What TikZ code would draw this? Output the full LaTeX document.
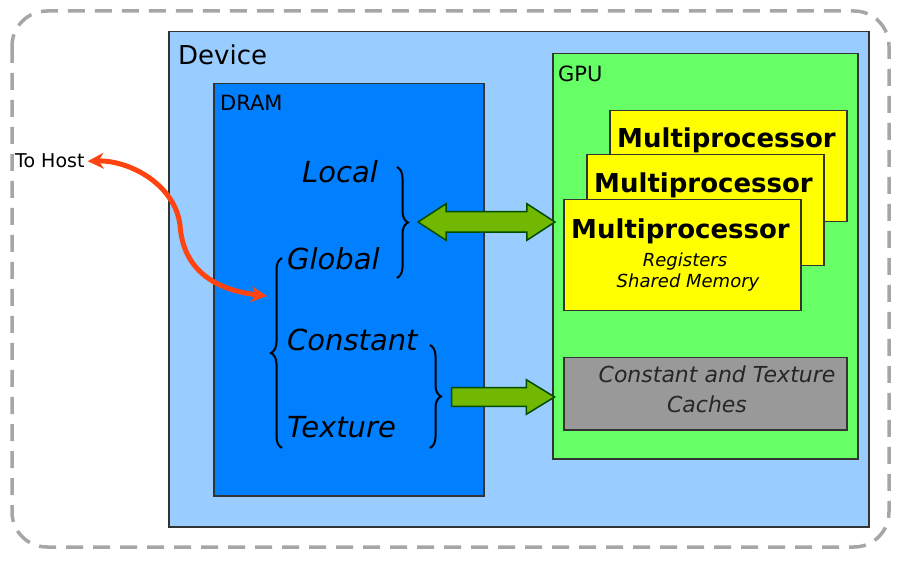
\documentclass[tikz,border=0pt]{standalone}
\usepackage{fontspec}
\setmainfont{DejaVu Sans}
\usetikzlibrary{arrows.meta,shapes.arrows,decorations.pathreplacing}

\definecolor{devblue}{HTML}{99CCFF}
\definecolor{dramblue}{HTML}{0080FF}
\definecolor{gpugreen}{HTML}{66FF66}
\definecolor{mpyellow}{HTML}{FFFF00}
\definecolor{cachegray}{HTML}{999999}
\definecolor{arrowgreen}{HTML}{73B800}
\definecolor{hostred}{HTML}{FF4411}
\definecolor{dashgray}{HTML}{A6A6A6}

\tikzset{
  box/.style={draw=black!80, line width=1.5pt, anchor=north west, inner sep=0pt},
  lbl/.style={anchor=base west, inner sep=0pt},
  mem/.style={lbl, font=\fontsize{29}{33}\selectfont\itshape},
  mptitle/.style={lbl, font=\fontsize{26}{30}\selectfont\bfseries},
  mpsub/.style={anchor=base, inner sep=0pt, font=\fontsize{18}{22}\selectfont\itshape},
  memcurl/.style={decorate, decoration={brace, amplitude=11pt}, line width=2pt},
  fatarrow/.style={draw=black!70!green, line width=1.5pt, fill=arrowgreen, inner xsep=0pt},
  redtip/.tip={Stealth[length=16pt,width=16pt]}
}

\begin{document}
\begin{tikzpicture}[x=1pt,y=-1pt]
  \useasboundingbox (0,0) rectangle (900,561);
  % host frame
  \draw[dashgray, line width=3.5pt, dash pattern=on 17pt off 10pt, rounded corners=35pt] (12,11) rectangle (889,547);

  % device
  \node[box, fill=devblue, minimum width=700pt, minimum height=495pt] (device) at (168,31) {};
  \node[lbl, font=\fontsize{26}{30}\selectfont] (devlbl) at (178,65) {Device};

  % DRAM
  \node[box, fill=dramblue, minimum width=270pt, minimum height=412pt] (dram) at (213,83) {};
  \node[lbl, font=\fontsize{21}{24}\selectfont] (dramlbl) at (220,111) {DRAM};
  \node[mem] (local) at (302,183) {Local};
  \node[mem] (global) at (287,270) {Global};
  \node[mem] (const) at (287,351) {Constant};
  \node[mem] (tex) at (287,437) {Texture};
  \draw[memcurl] (397,167) -- (397,278);
  \draw[memcurl] (282,448) -- (282,258);
  \draw[memcurl] (430,345) -- (430,448);

  % GPU
  \node[box, fill=gpugreen, minimum width=305pt, minimum height=405pt] (gpu) at (552,53) {};
  \node[lbl, font=\fontsize{21}{24}\selectfont] (gpulbl) at (558,82) {GPU};
  \foreach \n/\x/\y/\b in {mpc/609/110/148, mpb/586/154/193, mpa/563/199/239}{
    \node[box, fill=mpyellow, minimum width=237pt, minimum height=111pt] (\n) at (\x,\y) {};
    \node[mptitle] at (\x+8,\b) {Multiprocessor};
  }
  \node[mpsub] (regs) at (685,267) {Registers};
  \node[mpsub] (smem) at (688,288) {Shared Memory};
  \node[box, fill=cachegray, minimum width=283pt, minimum height=72pt] (cache) at (563,357) {};
  \node[anchor=base, inner sep=0pt, text=black!85, font=\fontsize{22}{26}\selectfont\itshape] (cachea) at (717,382) {Constant and Texture};
  \node[anchor=base, inner sep=0pt, text=black!85, font=\fontsize{22}{26}\selectfont\itshape] (cacheb) at (707,413) {Caches};

  % transfers
  \node[fatarrow, double arrow, inner ysep=9.5pt, minimum height=137pt,
        double arrow head extend=8pt, double arrow tip angle=66] (lgarr) at (486.5,222) {};
  \node[fatarrow, single arrow, inner ysep=8.5pt, minimum height=103pt,
        single arrow head extend=8pt, single arrow tip angle=63, anchor=tip] (ctarr) at (556,397) {};

  % host link
  \node[lbl, font=\fontsize{19}{22}\selectfont] (host) at (15,168) {To Host};
  \coordinate (glob) at (267,296);
  \draw[hostred, line width=5pt, redtip-redtip] ([xshift=3pt]host.east) .. controls (130,160) and (175,185) .. (180,225)
        .. controls (183,270) and (215,290) .. (glob);
\end{tikzpicture}
\end{document}
